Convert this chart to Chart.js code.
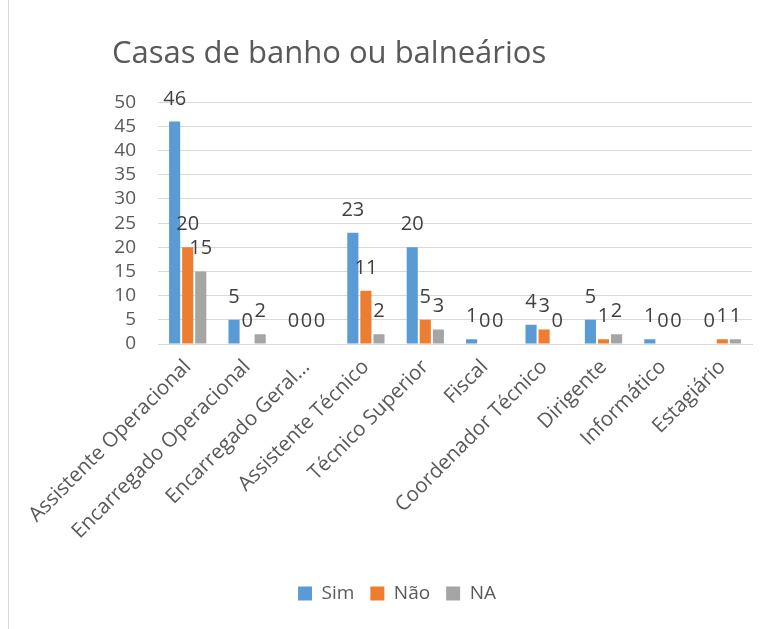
<!DOCTYPE html>
<html>
<head>
<meta charset="utf-8">
<script src="https://cdn.jsdelivr.net/npm/chart.js@4"></script>
<style>
  body { margin: 0; background: #fff; }
  #frame { position: absolute; left: 8px; top: 0; width: 1px; height: 629px; background: #d9d9d9; }
  canvas { position: absolute; left: 0; top: 0; }
</style>
</head>
<body>
<div id="frame"></div>
<canvas id="myChart" width="764" height="629"></canvas>
<script>
const categories = ['Assistente Operacional', 'Encarregado Operacional', 'Encarregado Geral...', 'Assistente Técnico', 'Técnico Superior', 'Fiscal', 'Coordenador Técnico', 'Dirigente', 'Informático', 'Estagiário'];
const simValues = [46, 5, 0, 23, 20, 1, 4, 5, 1, 0];
const naoValues = [20, 0, 0, 11, 5, 0, 3, 1, 0, 1];
const naValues = [15, 2, 0, 2, 3, 0, 0, 2, 0, 1];
const yTicks = [0, 5, 10, 15, 20, 25, 30, 35, 40, 45, 50];

const textColor = '#595959';
const fontFamily = '"Open Sans", "Noto Sans", sans-serif';

// draw the value above every bar, as Excel does
const valueLabels = {
    id: 'valueLabels',
    afterDatasetsDraw(chart) {
        const ctx = chart.ctx;
        ctx.save();
        ctx.font = '20px ' + fontFamily;
        ctx.fillStyle = '#404040';
        ctx.textAlign = 'center';
        ctx.textBaseline = 'alphabetic';
        chart.data.datasets.forEach(function(ds, i) {
            chart.getDatasetMeta(i).data.forEach(function(bar, j) {
                ctx.fillText(ds.data[j], bar.x, bar.y - 17);
            });
        });
        ctx.restore();
    }
};

// legend sits centred under the whole frame, not under the padded area
const legendShift = {
    id: 'legendShift',
    afterLayout(chart) {
        const lg = chart.legend;
        lg.left = 30;
        lg.right = 764;
        lg.width = lg.right - lg.left;
    }
};

const ctx = document.getElementById('myChart').getContext('2d');
new Chart(ctx, {
    type: 'bar',
    data: {
        labels: categories,
        datasets: [
            { label: 'Sim', data: simValues, backgroundColor: '#5b9bd5' },
            { label: 'Não', data: naoValues, backgroundColor: '#ed7d31' },
            { label: 'NA', data: naValues, backgroundColor: '#a5a5a5' }
        ]
    },
    options: {
        responsive: false,
        animation: false,
        categoryPercentage: 0.66,
        barPercentage: 0.85,
        layout: { padding: { left: 112, right: 12, top: 0, bottom: 16 } },
        scales: {
            x: {
                grid: { display: false },
                border: { color: '#d9d9d9' },
                afterFit: function(axis) { axis.height = 224; },
                ticks: {
                    color: textColor,
                    font: { family: fontFamily, size: 20.5 },
                    minRotation: 45,
                    maxRotation: 45,
                    autoSkip: false
                }
            },
            y: {
                min: 0,
                max: 50,
                afterBuildTicks: function(axis) {
                    axis.ticks = yTicks.map(function(v) { return { value: v }; });
                },
                afterFit: function(axis) { axis.width = 46; },
                grid: { color: '#d9d9d9', drawTicks: false },
                border: { display: false },
                ticks: {
                    color: textColor,
                    padding: 22,
                    autoSkip: false,
                    font: { family: fontFamily, size: 19 }
                }
            }
        },
        plugins: {
            title: {
                display: true,
                text: 'Casas de banho ou balneários',
                align: 'start',
                color: textColor,
                font: { family: fontFamily, size: 31, weight: 'normal' },
                padding: { top: 36, bottom: 29 }
            },
            legend: {
                position: 'bottom',
                labels: {
                    color: textColor,
                    font: { family: fontFamily, size: 19 },
                    boxWidth: 14,
                    boxHeight: 14,
                    padding: 16
                }
            },
            tooltip: { enabled: false }
        }
    },
    plugins: [valueLabels, legendShift]
});
</script>
</body>
</html>
